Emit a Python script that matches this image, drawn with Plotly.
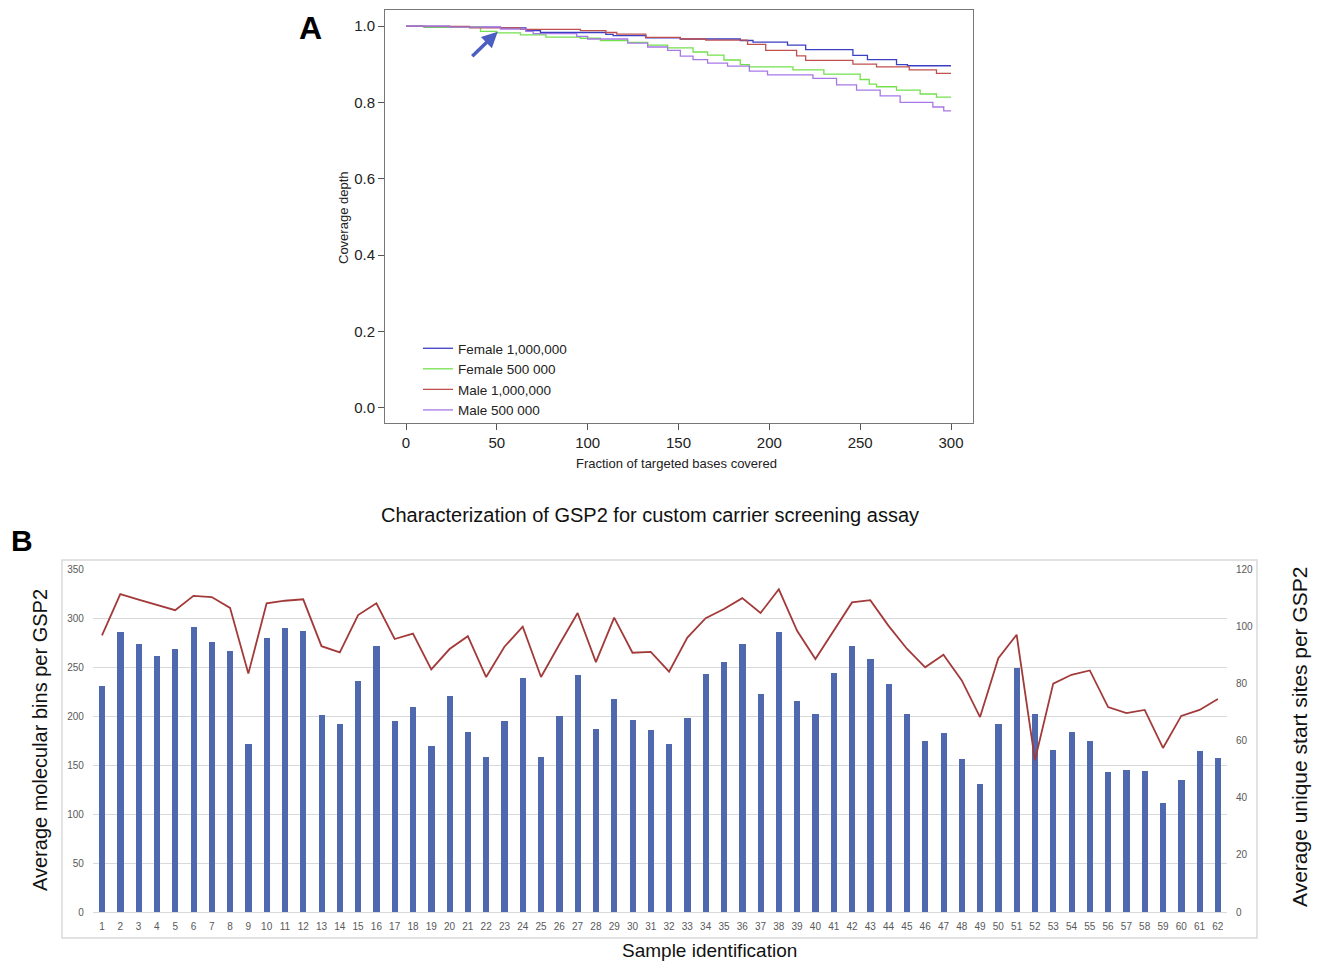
import plotly.graph_objects as go

# page is drawn with an 8px body margin; figure is sized so it fits the window
OFF = 8
W, H = 1306, 955

# ---------------- Panel A data (step curves) ----------------
fem1m_x = [0, 10, 52, 66, 74, 110, 114, 132, 151, 184, 191, 210, 220, 246, 254, 270, 276, 300]
fem1m_y = [1.0, 0.997, 0.995, 0.988, 0.983, 0.978, 0.975, 0.969, 0.966, 0.962, 0.958, 0.950, 0.938, 0.923, 0.912, 0.899, 0.896, 0.896]

fem500_x = [0, 10, 41, 50, 63, 77, 96, 107, 122, 133, 144, 158, 166, 175, 184, 189, 213, 230, 250, 255, 259, 270, 283, 292, 300]
fem500_y = [1.0, 0.997, 0.986, 0.982, 0.977, 0.971, 0.968, 0.962, 0.957, 0.950, 0.943, 0.932, 0.924, 0.911, 0.899, 0.893, 0.885, 0.874, 0.860, 0.848, 0.841, 0.832, 0.822, 0.814, 0.814]

male1m_x = [0, 35, 63, 96, 110, 116, 132, 151, 165, 188, 198, 215, 220, 246, 259, 277, 292, 300]
male1m_y = [0.999, 0.995, 0.991, 0.988, 0.983, 0.979, 0.970, 0.966, 0.963, 0.952, 0.936, 0.922, 0.910, 0.900, 0.893, 0.885, 0.876, 0.876]

male500_x = [0, 24, 52, 66, 70, 94, 100, 122, 133, 144, 151, 158, 166, 177, 189, 199, 224, 237, 248, 261, 272, 290, 296, 300]
male500_y = [1.0, 0.997, 0.992, 0.986, 0.980, 0.973, 0.966, 0.955, 0.945, 0.936, 0.921, 0.912, 0.903, 0.895, 0.882, 0.872, 0.863, 0.846, 0.832, 0.817, 0.800, 0.788, 0.778, 0.778]

a_series = [
    ("Female 1,000,000", fem1m_x, fem1m_y, "#3A3FC4"),
    ("Female 500 000", fem500_x, fem500_y, "#74E04E"),
    ("Male 1,000,000", male1m_x, male1m_y, "#C0504D"),
    ("Male 500 000", male500_x, male500_y, "#A678E6"),
]
a_xticks = [0, 50, 100, 150, 200, 250, 300]
a_yticks = [0.0, 0.2, 0.4, 0.6, 0.8, 1.0]

# ---------------- Panel B data ----------------
samples = list(range(1, 63))
molecular_bins = [231, 286, 273, 261, 268, 291, 276, 266, 171, 280,
                  290, 287, 201, 192, 236, 271, 195, 209, 169, 220,
                  184, 158, 195, 239, 158, 200, 242, 187, 217, 196,
                  186, 171, 198, 243, 255, 273, 222, 286, 215, 202,
                  244, 271, 258, 233, 202, 175, 183, 156, 131, 192,
                  249, 202, 165, 184, 174, 143, 145, 144, 111, 135,
                  164, 157]
unique_starts = [96.8, 111.2, 109.3, 107.5, 105.6, 110.6, 110.2, 106.4, 83.4, 108.0,
                 108.9, 109.4, 93.0, 90.8, 103.9, 108.0, 95.5, 97.4, 84.9, 92.0,
                 96.5, 82.2, 92.8, 99.8, 82.2, 93.6, 104.6, 87.4, 103.0, 90.7,
                 91.0, 84.1, 96.0, 102.8, 106.0, 109.8, 104.6, 112.9, 98.4, 88.5,
                 98.4, 108.3, 109.1, 100.1, 92.1, 85.6, 90.0, 81.0, 68.2, 88.8,
                 97.0, 53.1, 79.9, 83.0, 84.5, 71.7, 69.6, 70.7, 57.4, 68.6,
                 70.7, 74.5]
b_left_ticks = [0, 50, 100, 150, 200, 250, 300, 350]
b_right_ticks = [0, 20, 40, 60, 80, 100, 120]

fig = go.Figure()

for name, xs, ys, col in a_series:
    fig.add_trace(go.Scatter(x=xs, y=ys, mode="lines", name=name,
                             line=dict(color=col, width=1.3, shape="hv"),
                             xaxis="x", yaxis="y", showlegend=True))

fig.add_trace(go.Bar(x=samples, y=molecular_bins, width=0.34,
                     marker=dict(color="#4F68AE", line=dict(width=0)),
                     xaxis="x2", yaxis="y2", showlegend=False))
fig.add_trace(go.Scatter(x=samples, y=unique_starts, mode="lines",
                         line=dict(color="#A33A3A", width=1.8),
                         xaxis="x2", yaxis="y3", showlegend=False))


def px_x(p):
    return (p - OFF) / W


def px_y(p):
    return 1 - (p - OFF) / H


fig.update_layout(
    width=W, height=H,
    margin=dict(l=0, r=0, t=0, b=0, autoexpand=False),
    paper_bgcolor="white", plot_bgcolor="white",
    font=dict(family="Liberation Sans, Arial, sans-serif", color="#222"),
    bargap=0,
    xaxis=dict(domain=[px_x(385), px_x(973)], anchor="y",
               range=[-11.56, 312.1], tickvals=a_xticks,
               ticks="outside", ticklen=6, tickcolor="#555",
               showline=True, linecolor="#777", linewidth=1, mirror=True,
               showgrid=False, zeroline=False, automargin=False,
               tickfont=dict(size=15, color="#222")),
    yaxis=dict(domain=[px_y(423), px_y(10)], anchor="x",
               range=[-0.0393, 1.0419], tickvals=a_yticks, tickformat=".1f",
               ticks="outside", ticklen=6, tickcolor="#555",
               showline=True, linecolor="#777", linewidth=1, mirror=True,
               showgrid=False, zeroline=False, automargin=False,
               tickfont=dict(size=15, color="#222")),
    xaxis2=dict(domain=[px_x(92.85), px_x(1227)], anchor="y2",
                range=[0.5, 62.5], tickvals=samples,
                showline=False, showgrid=False, zeroline=False, ticks="",
                automargin=False, ticklabelstandoff=7,
                tickfont=dict(size=10, color="#595959")),
    yaxis2=dict(domain=[px_y(912), px_y(569)], anchor="x2",
                range=[0, 350], tickvals=b_left_ticks,
                showgrid=True, gridcolor="#D9D9D9", gridwidth=1,
                zeroline=True, zerolinecolor="#D9D9D9", zerolinewidth=1,
                showline=False, ticks="", automargin=False, ticklabelstandoff=8,
                tickfont=dict(size=10, color="#595959")),
    yaxis3=dict(overlaying="y2", side="right", anchor="x2",
                range=[0, 120], tickvals=b_right_ticks,
                showgrid=False, zeroline=False, showline=False, ticks="",
                automargin=False, ticklabelstandoff=8,
                tickfont=dict(size=10, color="#595959")),
    legend=dict(x=px_x(418), y=px_y(333), xanchor="left", yanchor="top",
                bgcolor="rgba(0,0,0,0)", font=dict(size=13.5, color="#222"),
                tracegroupgap=0, itemwidth=30),
)

ann = [
    dict(text="<b>A</b>", x=px_x(310), y=px_y(28), font=dict(size=32, color="#000")),
    dict(text="Coverage depth", x=px_x(343), y=px_y(218), textangle=-90, font=dict(size=13)),
    dict(text="Fraction of targeted bases covered", x=px_x(677), y=px_y(463), font=dict(size=13)),
    dict(text="Characterization of GSP2 for custom carrier screening assay",
         x=px_x(650), y=px_y(515), font=dict(size=20, color="#111")),
    dict(text="<b>B</b>", x=px_x(22), y=px_y(540), font=dict(size=30, color="#000")),
    dict(text="Average molecular bins per GSP2", x=px_x(40), y=px_y(740), textangle=-90,
         font=dict(size=20, color="#111")),
    dict(text="Average unique start sites per GSP2", x=px_x(1299), y=px_y(737), textangle=-90,
         font=dict(size=21, color="#111")),
    dict(text="Sample identification", x=px_x(709), y=px_y(950), font=dict(size=19, color="#111")),
]
annotations = []
for a in ann:
    a.update(xref="paper", yref="paper", showarrow=False, xanchor="center", yanchor="middle")
    annotations.append(a)

# arrow in panel A
annotations.append(dict(x=50.5, y=0.985, xref="x", yref="y", ax=-27, ay=26,
                        axref="pixel", ayref="pixel", text="", showarrow=True,
                        arrowhead=2, arrowsize=0.9, arrowwidth=3.5, arrowcolor="#4A5FC1"))
fig.update_layout(annotations=annotations)

# light chart-area frame for panel B
fig.add_shape(type="rect", xref="paper", yref="paper",
              x0=px_x(62), x1=px_x(1257), y0=px_y(938), y1=px_y(560),
              line=dict(color="#D9D9D9", width=1.5), fillcolor="rgba(0,0,0,0)", layer="below")

fig.write_html("out.html")
